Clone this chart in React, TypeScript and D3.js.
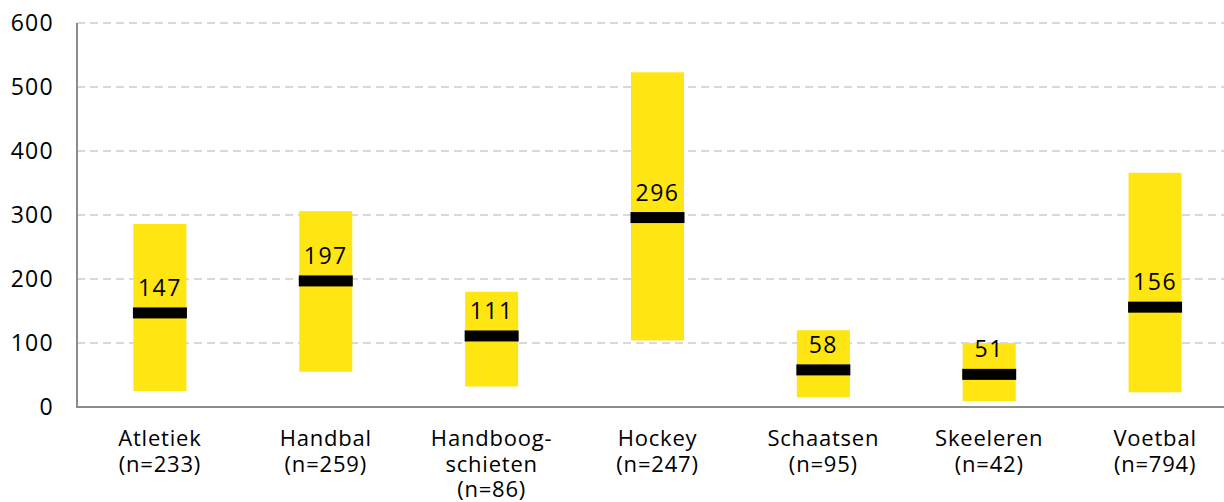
import React from "react";
import * as d3 from "d3";

const categories = ["Atletiek", "Handbal", "Handboog-|schieten", "Hockey", "Schaatsen", "Skeeleren", "Voetbal"];
const counts = ["(n=233)", "(n=259)", "(n=86)", "(n=247)", "(n=95)", "(n=42)", "(n=794)"];
const lowValues = [25, 55, 32, 104, 15, 9, 23];
const highValues = [286, 306, 180, 523, 120, 100, 366];
const medianValues = [147, 197, 111, 296, 58, 51, 156];
const yTicks = [0, 100, 200, 300, 400, 500, 600];

const W = 1224;
const H = 502;
const FONT = "'Open Sans', sans-serif";

export default function App() {
  const x = d3.scaleBand<number>().domain(d3.range(categories.length)).range([77, 1238]).paddingInner(0).paddingOuter(0);
  const y = d3.scaleLinear().domain([0, 600]).range([407, 23]);
  const barW = 53;

  return (
    <div style={{ position: "absolute", left: 0, top: 0 }}>
      <svg width={W} height={H} style={{ display: "block", fontFamily: FONT }}>
        <rect width={W} height={H} fill="#fff" />
        {yTicks.filter((t) => t > 0).map((t) => (
          <line key={t} x1={77} x2={W} y1={y(t)} y2={y(t)} stroke="#d9d9d9" strokeWidth={2} strokeDasharray="8,5" />
        ))}
        {yTicks.map((t) => (
          <text key={"l" + t} x={54} y={y(t)} dy="0.36em" textAnchor="end" fontSize={23} letterSpacing={1.3} fill="#000">{t}</text>
        ))}
        {categories.map((c, i) => {
          const cx = x(i)! + x.bandwidth() / 2;
          const ym = y(medianValues[i]);
          return (
            <g key={c}>
              <rect x={cx - barW / 2} y={y(highValues[i])} width={barW} height={y(lowValues[i]) - y(highValues[i])} fill="#ffe512" />
              <rect x={cx - barW / 2 - 0.5} y={ym - 5.5} width={barW + 1} height={11} fill="#000" />
              <text x={cx} y={ym - 17} textAnchor="middle" fontSize={23} letterSpacing={1.5} fill="#000">{medianValues[i]}</text>
            </g>
          );
        })}
        <line x1={77} x2={77} y1={23} y2={407} stroke="#8c8c8c" strokeWidth={2} />
        <line x1={76} x2={W} y1={407} y2={407} stroke="#8c8c8c" strokeWidth={2} />
        {categories.map((c, i) => {
          const cx = x(i)! + x.bandwidth() / 2;
          const lines = [...c.split("|"), counts[i]];
          return lines.map((l, k) => (
            <text key={"c" + i + "-" + k} x={cx} y={446 + k * 25.5} textAnchor="middle" fontSize={22} letterSpacing={0.8} fill="#000">{l}</text>
          ));
        })}
      </svg>
    </div>
  );
}
